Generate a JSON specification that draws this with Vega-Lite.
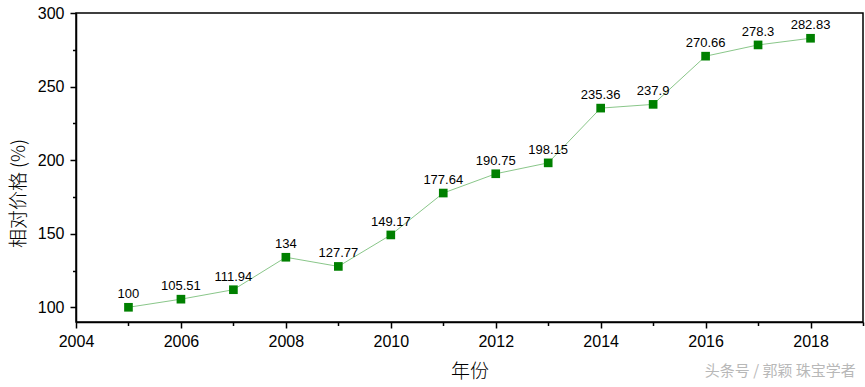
{
  "$schema": "https://vega.github.io/schema/vega-lite/v6.json",
  "width": 787,
  "height": 309,
  "autosize": "none",
  "padding": {"left": 76, "top": 13, "right": 2, "bottom": 65},
  "background": "white",
  "config": {
    "view": {"stroke": "black", "strokeWidth": 1.5},
    "font": "Liberation Sans",
    "axis": {
      "grid": false,
      "domainColor": "black",
      "domainWidth": 1.5,
      "tickColor": "black",
      "tickWidth": 1.5,
      "labelColor": "black",
      "labelFont": "Liberation Sans",
      "labelFontSize": 16,
      "titleFont": "Noto Sans CJK SC",
      "titleFontSize": 19,
      "titleFontWeight": 300,
      "titleColor": "black"
    },
    "title": {"font": "Noto Sans CJK SC"}
  },
  "title": {
    "text": "头条号 / 郭颖 珠宝学者",
    "orient": "bottom",
    "anchor": "end",
    "baseline": "middle",
    "color": "#b8b8b8",
    "fontSize": 15,
    "fontWeight": 400,
    "offset": -10,
    "dx": -8
  },
  "data": {
    "values": [
      {"year": 2005, "price": 100},
      {"year": 2006, "price": 105.51},
      {"year": 2007, "price": 111.94},
      {"year": 2008, "price": 134},
      {"year": 2009, "price": 127.77},
      {"year": 2010, "price": 149.17},
      {"year": 2011, "price": 177.64},
      {"year": 2012, "price": 190.75},
      {"year": 2013, "price": 198.15},
      {"year": 2014, "price": 235.36},
      {"year": 2015, "price": 237.9},
      {"year": 2016, "price": 270.66},
      {"year": 2017, "price": 278.3},
      {"year": 2018, "price": 282.83}
    ]
  },
  "encoding": {
    "x": {
      "field": "year",
      "type": "quantitative",
      "scale": {"domain": [2004, 2019], "nice": false, "zero": false},
      "axis": {
        "title": "年份",
        "values": [2004, 2005, 2006, 2007, 2008, 2009, 2010, 2011, 2012, 2013, 2014, 2015, 2016, 2017, 2018, 2019],
        "labelExpr": "datum.value % 2 == 0 ? datum.value : ''",
        "format": "d",
        "tickSize": {"condition": {"test": "datum.value % 2 == 0", "value": 6}, "value": 3.5},
        "labelPadding": 5,
        "titlePadding": 13,
        "labelFlush": false,
        "labelOverlap": false
      }
    },
    "y": {
      "field": "price",
      "type": "quantitative",
      "scale": {"domain": [90, 300], "nice": false, "zero": false},
      "axis": {
        "title": "相对价格 (%)",
        "values": [100, 125, 150, 175, 200, 225, 250, 275, 300],
        "labelExpr": "datum.value % 50 == 0 ? datum.value : ''",
        "tickSize": {"condition": {"test": "datum.value % 50 == 0", "value": 6}, "value": 3.5},
        "labelPadding": 6,
        "titleX": -58,
        "titleY": 180,
        "titleAngle": -90,
        "titleBaseline": "middle",
        "titleAlign": "center",
        "labelFlush": false,
        "labelOverlap": false
      }
    }
  },
  "layer": [
    {"mark": {"type": "line", "color": "#7cc07c", "strokeWidth": 0.9}},
    {"mark": {"type": "square", "size": 75, "color": "#008000", "opacity": 1, "filled": true}},
    {
      "mark": {"type": "text", "baseline": "bottom", "align": "center", "dy": -6, "fontSize": 13, "color": "black"},
      "encoding": {"text": {"field": "price", "type": "quantitative", "format": "~g"}}
    }
  ]
}
